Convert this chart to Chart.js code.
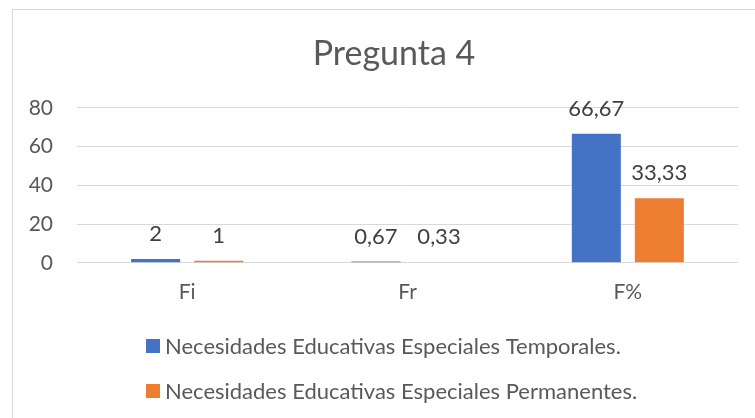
<!DOCTYPE html>
<html>
<head>
<meta charset="utf-8">
<script src="https://cdn.jsdelivr.net/npm/chart.js@4/dist/chart.umd.min.js"></script>
<style>
  html, body { margin: 0; padding: 0; background: #fff; overflow: hidden; }
  #wrap { position: relative; width: 755px; height: 418px; }
  #frame { position: absolute; left: 12px; top: 9px; width: 800px; height: 500px; border: 1px solid #d9d9d9; box-sizing: border-box; }
  canvas { position: absolute; left: 0; top: 0; }
</style>
</head>
<body>
<div id="wrap">
  <div id="frame"></div>
  <canvas id="chart" width="755" height="418"></canvas>
</div>
<script>
const categories = ['Fi', 'Fr', 'F%'];
const temporales = [2, 0.67, 66.67];
const permanentes = [1, 0.33, 33.33];
const seriesNames = [
    'Necesidades Educativas Especiales Temporales.',
    'Necesidades Educativas Especiales Permanentes.'
];
const yTicks = [0, 20, 40, 60, 80];

const FONT = 'Lato';
const textColor = '#595959';

// the frame is offset to the right, so the title sits a bit right of canvas center
const titleShift = {
    id: 'titleShift',
    afterLayout(chart) {
        if (chart.titleBlock) {
            chart.titleBlock.left += 25;
            chart.titleBlock.right += 25;
        }
    }
};

// value labels above the bars, decimal comma
const barLabels = {
    id: 'barLabels',
    afterDatasetsDraw(chart) {
        const ctx = chart.ctx;
        ctx.save();
        ctx.font = '22px ' + FONT;
        ctx.fillStyle = '#404040';
        ctx.textAlign = 'center';
        ctx.textBaseline = 'middle';
        chart.data.datasets.forEach((ds, i) => {
            chart.getDatasetMeta(i).data.forEach((bar, j) => {
                const txt = String(ds.data[j]).replace('.', ',');
                ctx.fillText(txt, bar.x, bar.y - 25);
            });
        });
        ctx.restore();
    }
};

// stacked legend, one entry per line, left aligned like the original
const stackedLegend = {
    id: 'stackedLegend',
    afterDraw(chart) {
        const ctx = chart.ctx;
        ctx.save();
        ctx.font = '22px ' + FONT;
        ctx.textBaseline = 'middle';
        ctx.textAlign = 'left';
        chart.data.datasets.forEach((ds, i) => {
            const y = 346 + i * 45;
            ctx.fillStyle = ds.backgroundColor;
            ctx.fillRect(146, y - 7, 14, 14);
            ctx.fillStyle = textColor;
            ctx.fillText(ds.label, 165, y + 1);
        });
        ctx.restore();
    }
};

new Chart(document.getElementById('chart'), {
    type: 'bar',
    data: {
        labels: categories,
        datasets: [
            { label: seriesNames[0], data: temporales, backgroundColor: '#4472c4' },
            { label: seriesNames[1], data: permanentes, backgroundColor: '#ed7d31' }
        ]
    },
    options: {
        responsive: false,
        devicePixelRatio: 1,
        animation: false,
        categoryPercentage: 0.572,
        barPercentage: 0.778,
        layout: { padding: { left: 0, right: 17, top: 0, bottom: 96 } },
        plugins: {
            legend: { display: false },
            tooltip: { enabled: false },
            title: {
                display: true,
                text: 'Pregunta 4',
                color: textColor,
                font: { family: FONT, size: 34, weight: 'normal' },
                padding: { top: 34, bottom: 33 }
            }
        },
        scales: {
            x: {
                grid: { display: false, drawTicks: false },
                border: { display: false },
                ticks: { color: textColor, font: { family: FONT, size: 21 }, padding: 17 }
            },
            y: {
                min: 0,
                max: 80,
                afterFit: s => { s.width = 77; },
                afterBuildTicks: s => { s.ticks = yTicks.map(v => ({ value: v })); },
                grid: { color: '#d9d9d9', lineWidth: 1, drawTicks: false },
                border: { display: false },
                ticks: { color: textColor, font: { family: FONT, size: 21 }, padding: 24 }
            }
        }
    },
    plugins: [titleShift, barLabels, stackedLegend]
});
</script>
</body>
</html>
